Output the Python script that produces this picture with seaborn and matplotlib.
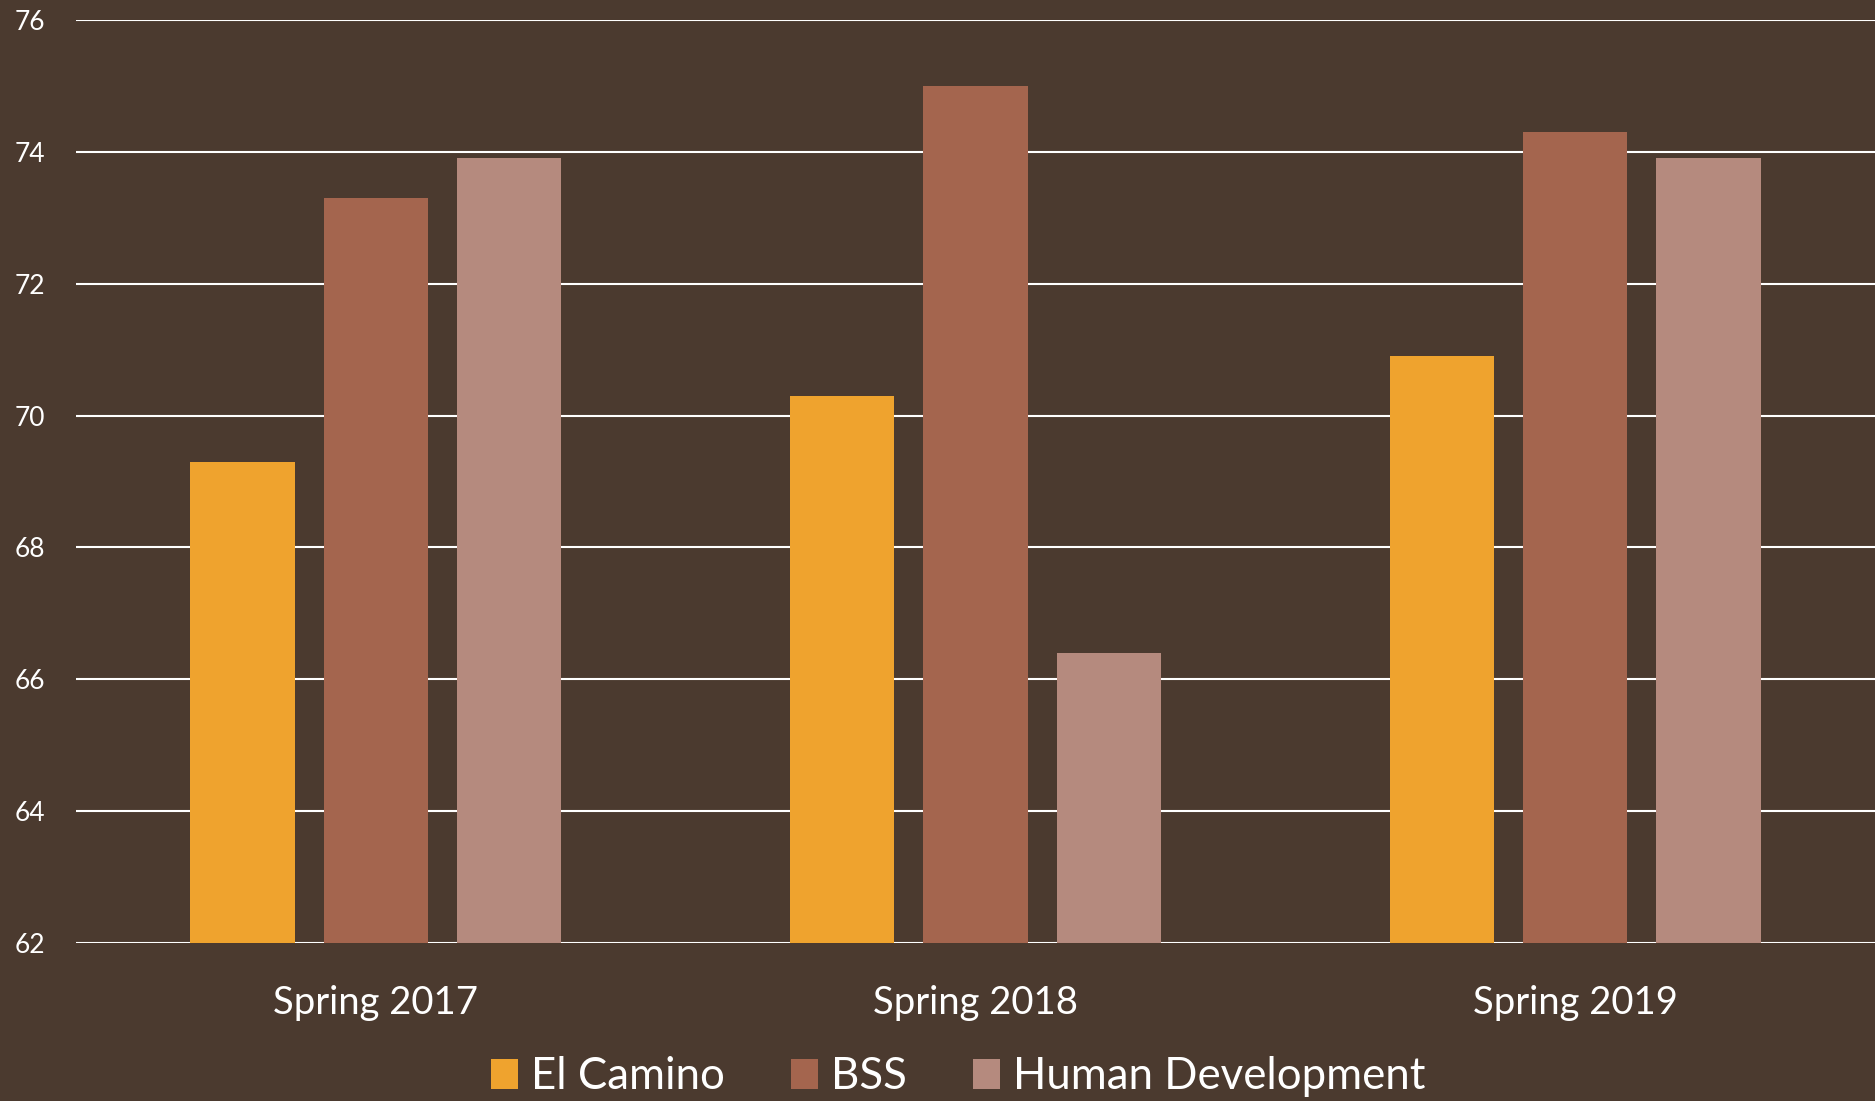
import pandas as pd
import seaborn as sns
import matplotlib.pyplot as plt

terms = ["Spring 2017", "Spring 2018", "Spring 2019"]
groups = ["El Camino", "BSS", "Human Development"]
el_camino = [69.3, 70.3, 70.9]
bss = [73.3, 75.0, 74.3]
human_dev = [73.9, 66.4, 73.9]
colors = ["#EFA32E", "#A4654E", "#B58A7E"]
yticks = [62, 64, 66, 68, 70, 72, 74, 76]

# long form table for seaborn
df = pd.DataFrame({
    "term": terms * 3,
    "group": [g for g in groups for _ in terms],
    "value": el_camino + bss + human_dev,
})

bg = "#4B3A2F"
sns.set_style("white")
plt.rcParams["font.family"] = ["Lato", "DejaVu Sans"]

fig = plt.figure(figsize=(18.75, 11.01), dpi=100, facecolor=bg)
ax = fig.add_axes([0.0405, 0.1435, 0.9595, 0.8383])
ax.set_facecolor(bg)

sns.barplot(data=df, x="term", y="value", hue="group", palette=colors,
            width=0.667, gap=0.217, linewidth=0, saturation=1, ax=ax)

ax.set_ylim(62, 76)
ax.set_xlim(-0.5, 2.5)
ax.set_yticks(yticks)
ax.set_axisbelow(True)
ax.yaxis.grid(True, color="white", linewidth=1.5)
ax.xaxis.grid(False)
for s in ax.spines.values():
    s.set_visible(False)
ax.tick_params(axis="y", length=0, pad=22, labelsize=19, labelcolor="white")
ax.tick_params(axis="x", length=0, pad=30, labelsize=27.5, labelcolor="white")
ax.set_xlabel("")
ax.set_ylabel("")

handles, labels = ax.get_legend_handles_labels()
ax.get_legend().remove()
fig.legend(handles, labels, loc="center", bbox_to_anchor=(0.511, 0.022),
           ncol=3, frameon=False, fontsize=31.5, labelcolor="white",
           handlelength=0.62, handleheight=0.68, handletextpad=0.3,
           columnspacing=1.5)

plt.savefig("out.png", dpi=100, facecolor=bg)
